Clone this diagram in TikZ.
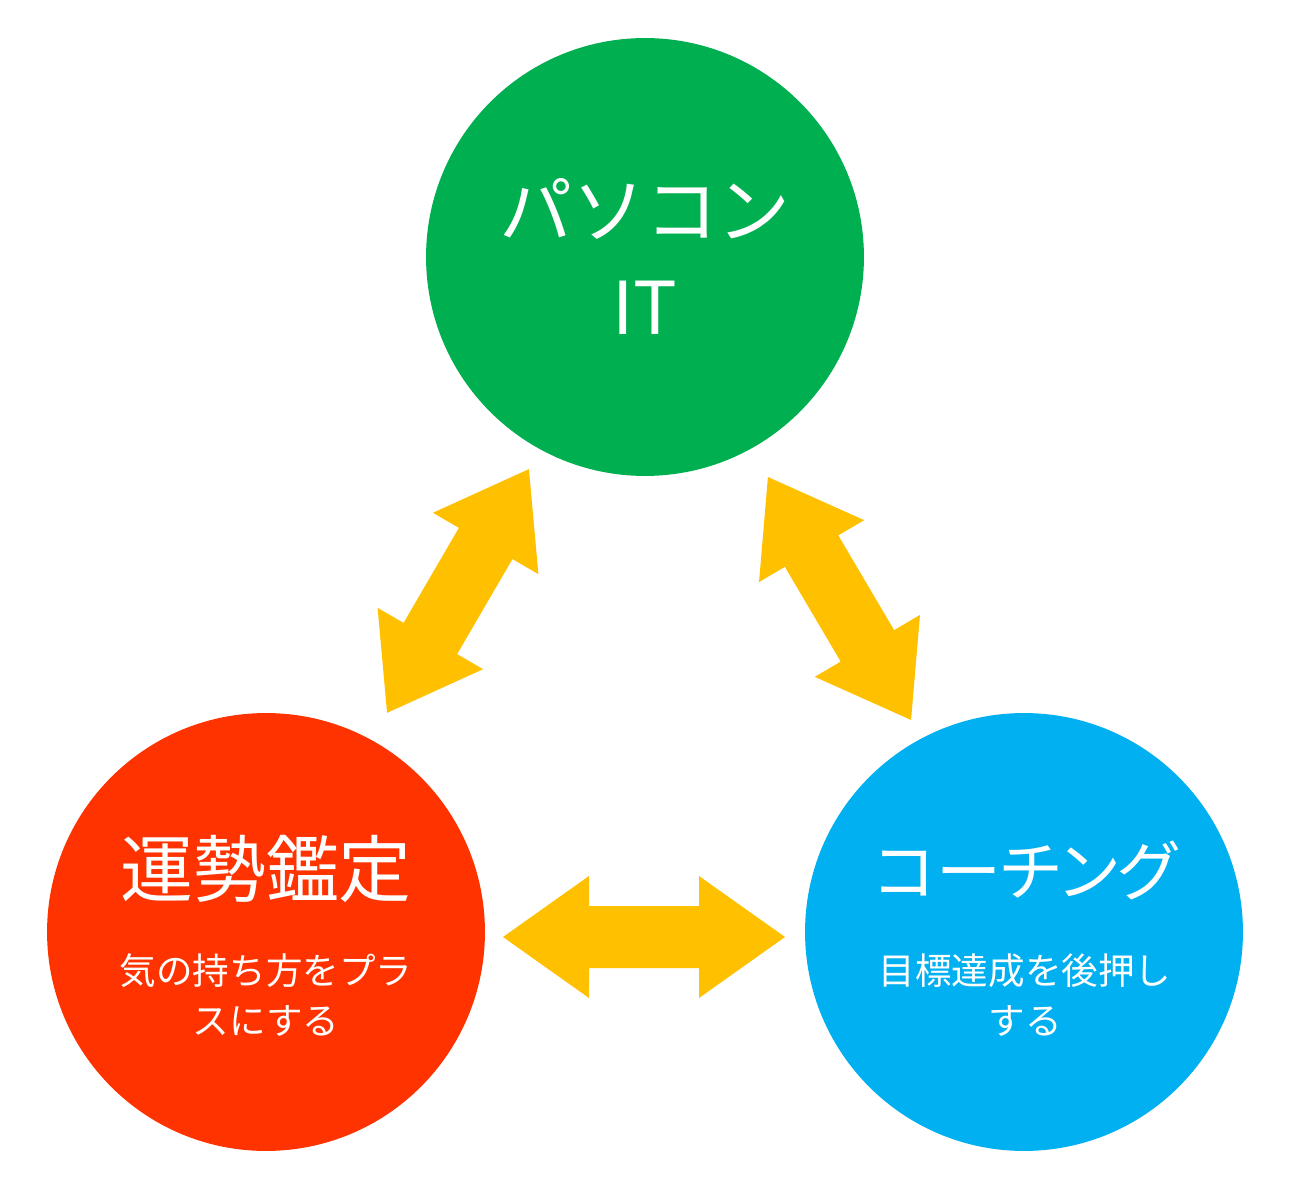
\documentclass[tikz,border=0pt]{standalone}
\usepackage{fontspec}
\setmainfont{Noto Sans CJK JP}
\newfontfamily\paltfont[RawFeature=+palt]{Noto Sans CJK JP}
\begin{document}
\begin{tikzpicture}[x=0.02cm,y=-0.02cm,
  bubble/.style={circle,minimum size=8.76cm,inner sep=0pt,draw=none},
  bigtext/.style={anchor=base,text=white,inner sep=0pt,font=\fontsize{41.5}{54}\selectfont},
  smalltext/.style={anchor=base,text=white,inner sep=0pt,font=\fontsize{20.8}{28}\selectfont},
  arrowfill/.style={fill=arrowyellow,draw=none},
  dblarrow/.pic={\fill[arrowfill] (-141,0) -- (-55,61) -- (-55,31) -- (55,31) -- (55,61) -- (141,0) -- (55,-61) -- (55,-31) -- (-55,-31) -- (-55,-61) -- cycle;}
]
\definecolor{pcgreen}{HTML}{00AF50}
\definecolor{fortunered}{HTML}{FF3300}
\definecolor{coachblue}{HTML}{00B0F0}
\definecolor{arrowyellow}{HTML}{FFC000}
\fill[white] (0,0) rectangle (1292,1192);
\useasboundingbox (0,0) rectangle (1292,1192);

\node[bubble,fill=pcgreen] (pc) at (645,257) {};
\node[bubble,fill=fortunered] (fortune) at (266,932) {};
\node[bubble,fill=coachblue] (coach) at (1024,932) {};

\node[bigtext] (pct1) at (645,238) {パソコン};
\node[bigtext] (pct2) at (645,335) {IT};

\node[bigtext] (frt1) at (266,896) {運勢鑑定};
\node[smalltext] (frt2) at (266,984) {気の持ち方をプラ};
\node[smalltext] (frt3) at (266,1034) {スにする};

\node[bigtext,font=\fontsize{37}{48}\selectfont\paltfont] (cot1) at (1026,895) {コーチング};
\node[smalltext] (cot2) at (1025,984) {目標達成を後押し};
\node[smalltext] (cot3) at (1025,1034) {する};

\coordinate (leftarrow) at (458,591);
\coordinate (rightarrow) at (839.5,598.5);
\coordinate (bottomarrow) at (644,937);
\pic[rotate=59.8] at (leftarrow) {dblarrow};
\pic[rotate=-59.5] at (rightarrow) {dblarrow};
\pic at (bottomarrow) {dblarrow};
\end{tikzpicture}
\end{document}
